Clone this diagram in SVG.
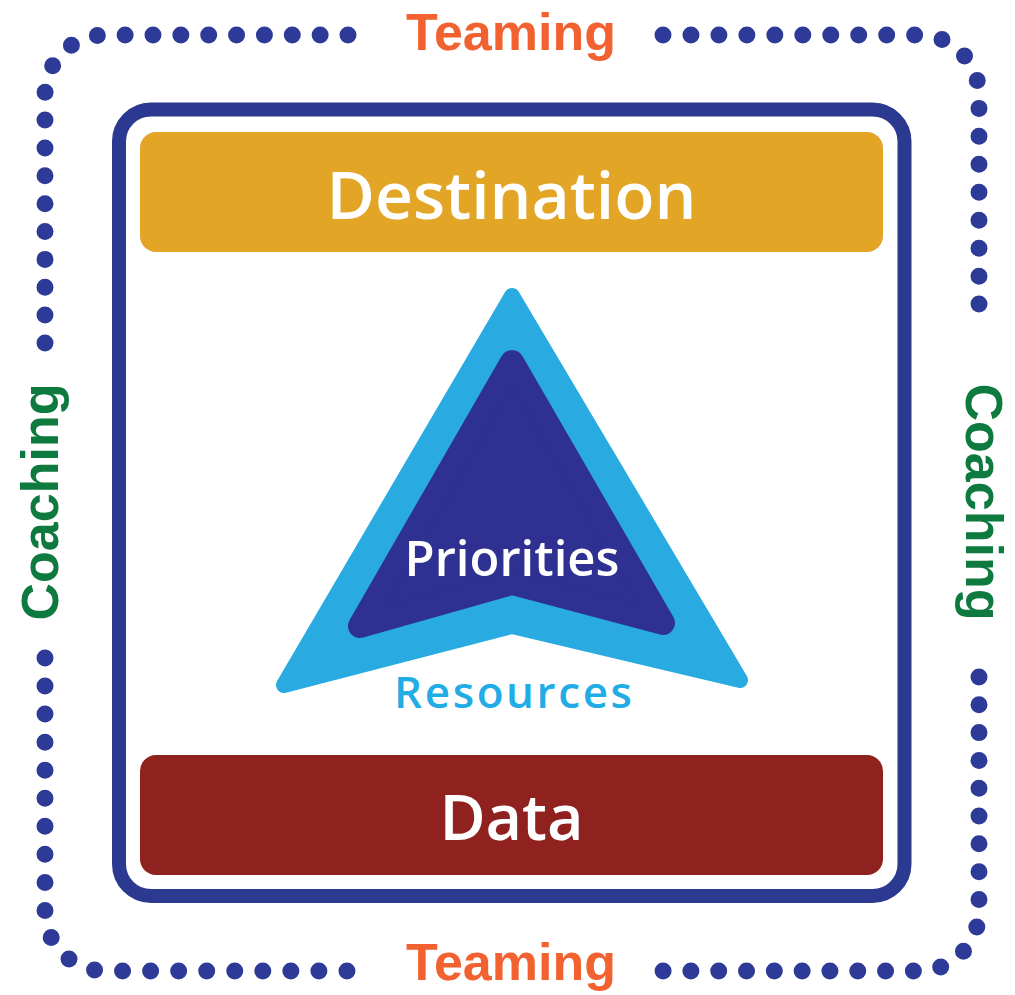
<svg xmlns="http://www.w3.org/2000/svg" width="1015" height="995" viewBox="0 0 1015 995">
  <style>
    .dots { fill: none; stroke: #2E3A97; stroke-width: 17; stroke-linecap: round; }
    .team { font-family: "Liberation Sans", Arial, sans-serif; font-weight: 700; font-size: 52px; fill: #F26230; text-anchor: middle; }
    .coach { font-family: "Liberation Sans", Arial, sans-serif; font-weight: 700; font-size: 52px; fill: #0E7A3F; text-anchor: middle; }
    .lbl { font-family: "Open Sans", "Noto Sans", sans-serif; font-weight: 600; fill: #FFFFFF; text-anchor: middle; }
  </style>
  <rect x="0" y="0" width="1015" height="995" fill="#FFFFFF"/>

  <g id="outer-dotted-frame">
    <path class="dots" d="M348,35 H105 A60,60 0 0 0 45,95 V343" stroke-dasharray="0 27.86"/>
    <path class="dots" d="M663,35 H919 A60,60 0 0 1 979,95 V332" stroke-dasharray="0 27.96"/>
    <path class="dots" d="M45,658 V911 A60,60 0 0 0 105,971 H347" stroke-dasharray="0 28.05"/>
    <path class="dots" d="M979,677 V911 A60,60 0 0 1 919,971 H663" stroke-dasharray="0 27.81"/>
  </g>

  <g id="teaming-top"><text class="team" x="511" y="50">Teaming</text></g>
  <g id="teaming-bottom"><text class="team" x="511" y="980">Teaming</text></g>
  <g id="coaching-left"><text class="coach" transform="translate(58,502) rotate(-90)">Coaching</text></g>
  <g id="coaching-right"><text class="coach" transform="translate(966,502) rotate(90)">Coaching</text></g>

  <g id="inner-frame">
    <rect x="119" y="109.5" width="785.5" height="786.5" rx="32" fill="none" stroke="#2B3990" stroke-width="14"/>
  </g>

  <g id="destination">
    <rect x="140" y="132" width="743" height="120" rx="16" fill="#E3A526"/>
    <text class="lbl" x="511.5" y="219" font-size="66">Destination</text>
  </g>

  <g id="resources">
    <path d="M512,296 L740,680 L512,626 L284,685 Z" fill="#29ABE2" stroke="#29ABE2" stroke-width="16" stroke-linejoin="round"/>
    <text x="513" y="708" font-family="'Open Sans', 'Noto Sans', sans-serif" font-weight="600" font-size="44" fill="#22ACE6" text-anchor="middle" textLength="238">Resources</text>
  </g>

  <g id="priorities">
    <path d="M512,362 L663,623 L512,583 L360,626 Z" fill="#2E3192" stroke="#2E3192" stroke-width="24" stroke-linejoin="round"/>
    <text class="lbl" x="512" y="576" font-size="49">Priorities</text>
  </g>

  <g id="data">
    <rect x="140" y="755" width="743" height="120" rx="16" fill="#8F221E"/>
    <text class="lbl" x="511.5" y="840" font-size="63">Data</text>
  </g>
</svg>
